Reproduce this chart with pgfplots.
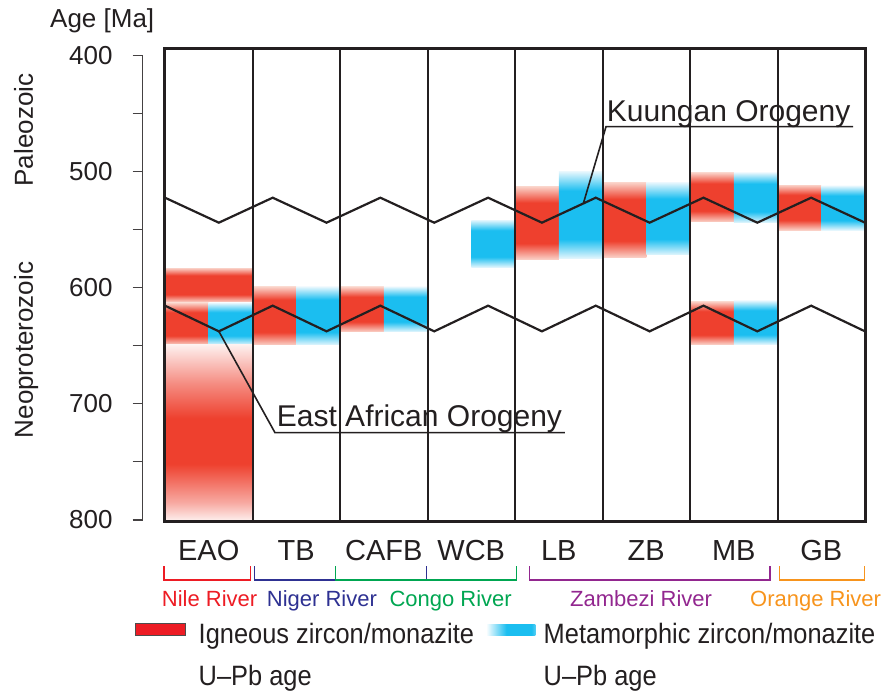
\documentclass[border=0pt]{standalone}
\usepackage{fontspec}
\setmainfont{Liberation Sans}
\usepackage{graphicx}
\usepackage{pgfplots}
\pgfplotsset{compat=1.18}

\definecolor{igred}{RGB}{238,64,46}
\definecolor{igpale}{RGB}{250,208,198}
\definecolor{mtblue}{RGB}{27,190,240}
\definecolor{mtpale}{RGB}{228,246,253}
\definecolor{legred}{RGB}{237,28,36}
\definecolor{ink}{RGB}{35,31,32}
\definecolor{nile}{RGB}{237,28,36}
\definecolor{niger}{RGB}{46,49,146}
\definecolor{congo}{RGB}{0,166,81}
\definecolor{zambezi}{RGB}{146,39,143}
\definecolor{orangeriver}{RGB}{247,148,29}

% age bands: solid core with soft upper and lower edges (the path spans 25bp..75bp)
\pgfdeclareverticalshading{igband}{100bp}{color(0bp)=(igpale); color(25bp)=(igpale); color(36bp)=(igred); color(64bp)=(igred); color(75bp)=(igpale); color(100bp)=(igpale)}
\pgfdeclareverticalshading{mtband}{100bp}{color(0bp)=(mtpale); color(25bp)=(mtpale); color(36bp)=(mtblue); color(64bp)=(mtblue); color(75bp)=(mtpale); color(100bp)=(mtpale)}
\pgfdeclareverticalshading{igtail}{100bp}{color(0bp)=(igred!10); color(25bp)=(igred!10); color(30bp)=(igred!45); color(41bp)=(igred); color(54bp)=(igred); color(64bp)=(igred!60); color(75bp)=(igred!8); color(100bp)=(igred!8)}
\pgfdeclarehorizontalshading{mtswatch}{100bp}{color(0bp)=(mtblue!5); color(25bp)=(mtblue!5); color(45bp)=(mtblue); color(71bp)=(mtblue); color(75bp)=(mtblue!75); color(100bp)=(mtblue!75)}

\newcommand{\legtext}[1]{\makebox[288.4pt][l]{\scalebox{0.907}[1]{\fontsize{28}{42}\selectfont\begin{tabular}[t]{@{}l@{}}#1\\U–Pb age\end{tabular}}}}

\pgfplotsset{
  igb/.style={draw=none, mark=none, forget plot, shade, shading=igband},
  mtb/.style={draw=none, mark=none, forget plot, shade, shading=mtband},
}

\begin{document}
\begin{tikzpicture}
\path[use as bounding box] (-165pt,-173pt) rectangle (724pt,521pt);

% age scale
\begin{axis}[
  at={(-22.3pt,1pt)}, anchor=south west,
  scale only axis, width=1pt, height=464.9pt,
  xmin=0, xmax=1, ymin=400, ymax=800, y dir=reverse,
  axis y line*=left, axis x line=none,
  xtick=\empty,
  ytick={400,500,600,700,800}, minor ytick={450,550,650,750},
  tick align=outside, major tick length=10pt, minor tick length=10pt,
  every tick/.style={ink!85, line width=1.2pt},
  y axis line style={ink!85, line width=1.2pt, -},
  yticklabel style={font=\fontsize{26}{26}\selectfont, text=ink, anchor=east, inner sep=0pt, xshift=-20pt},
  /pgf/number format/assume math mode=true,
]
\end{axis}

% sample columns
\begin{axis}[
  at={(0pt,0pt)}, anchor=south west,
  scale only axis, width=700pt, height=473pt,
  xmin=0, xmax=8, ymin=394, ymax=801, y dir=reverse,
  axis on top,
  axis line style={ink, line width=3pt},
  xtick={0.5,1.5,...,7.5}, xticklabels={EAO,TB,CAFB,WCB,LB,ZB,MB,GB},
  ytick=\empty,
  major tick length=0pt,
  xticklabel style={font=\fontsize{29}{29}\selectfont, text=ink, anchor=base, inner sep=0pt, yshift=-39.7pt},
  major grid style={ink, line width=2pt},
  extra x ticks={1,2,3,4,5,6,7}, extra x tick labels={},
  extra x tick style={grid=major},
  legend columns=2,
  legend cell align=left,
  legend style={at={(axis description cs:-0.042857,-0.19577)}, anchor=north west,
    draw=none, fill=none, inner sep=0pt, outer sep=0pt, row sep=0pt, column sep=0pt,
    cells={anchor=base west}, nodes={inner sep=0pt, text=ink}},
]
\addlegendimage{legend image code/.code={
  \path[draw=none, fill=none] (0pt,0pt) -- (63.3pt,0pt);
  \path[fill=legred, draw=ink!80, line width=0.9pt] (0pt,8pt) rectangle (50pt,19.7pt);}}
\addlegendentry{\legtext{Igneous zircon/monazite}}
\addlegendimage{legend image code/.code={
  \path[draw=none, fill=none] (0pt,0pt) -- (56.6pt,0pt);
  \path[draw=none, shade, shading=mtswatch] (0pt,8pt) rectangle (48.3pt,18.7pt);}}
\addlegendentry{\legtext{Metamorphic zircon/monazite}}

% EAO
\addplot[igb] coordinates {(0,583.3) (1,583.3) (1,612.5) (0,612.5) (0,583.3)};
\addplot[igb] coordinates {(0,613.4) (0.5,613.4) (0.5,649.5) (0,649.5) (0,613.4)};
\addplot[mtb] coordinates {(0.5,613.4) (1,613.4) (1,649.5) (0.5,649.5) (0.5,613.4)};
\addplot[draw=none, mark=none, forget plot, shade, shading=igtail] coordinates {(0,649.5) (1,649.5) (1,800) (0,800) (0,649.5)};
% TB
\addplot[igb] coordinates {(1,599.6) (1.5,599.6) (1.5,649.5) (1,649.5) (1,599.6)};
\addplot[mtb] coordinates {(1.5,599.6) (2,599.6) (2,649.5) (1.5,649.5) (1.5,599.6)};
% CAFB
\addplot[igb] coordinates {(2,599.6) (2.5,599.6) (2.5,638.1) (2,638.1) (2,599.6)};
\addplot[mtb] coordinates {(2.5,599.6) (3,599.6) (3,638.1) (2.5,638.1) (2.5,599.6)};
% WCB
\addplot[mtb] coordinates {(3.5,542.0) (4,542.0) (4,582.7) (3.5,582.7) (3.5,542.0)};
% LB
\addplot[igb] coordinates {(4,513.3) (4.5,513.3) (4.5,575.8) (4,575.8) (4,513.3)};
\addplot[mtb] coordinates {(4.5,500.4) (5,500.4) (5,575.0) (4.5,575.0) (4.5,500.4)};
% ZB
\addplot[igb] coordinates {(5,509.9) (5.5,509.9) (5.5,574.1) (5,574.1) (5,509.9)};
\addplot[mtb] coordinates {(5.5,509.9) (6,509.9) (6,572.1) (5.5,572.1) (5.5,509.9)};
% MB
\addplot[igb] coordinates {(6,501.3) (6.5,501.3) (6.5,543.5) (6,543.5) (6,501.3)};
\addplot[mtb] coordinates {(6.5,501.3) (7,501.3) (7,544.3) (6.5,544.3) (6.5,501.3)};
\addplot[igb] coordinates {(6,612.3) (6.5,612.3) (6.5,649.0) (6,649.0) (6,612.3)};
\addplot[mtb] coordinates {(6.5,611.4) (7,611.4) (7,649.0) (6.5,649.0) (6.5,611.4)};
% GB
\addplot[igb] coordinates {(7,511.9) (7.5,511.9) (7.5,550.6) (7,550.6) (7,511.9)};
\addplot[mtb] coordinates {(7.5,512.7) (8,512.7) (8,550.6) (7.5,550.6) (7.5,512.7)};

% orogenic belts
\addplot[ink, line width=2.2pt, mark=none, forget plot] coordinates {
  (0,522.8) (0.6154,544.3) (1.2308,522.8) (1.8462,544.3) (2.4615,522.8) (3.0769,544.3)
  (3.6923,522.8) (4.3077,544.3) (4.9231,522.8) (5.5385,544.3) (6.1538,522.8) (6.7692,544.3)
  (7.3846,522.8) (8,544.3)};
\addplot[ink, line width=2.2pt, mark=none, forget plot] coordinates {
  (0,615.7) (0.6154,637.8) (1.2308,615.7) (1.8462,637.8) (2.4615,615.7) (3.0769,637.8)
  (3.6923,615.7) (4.3077,637.8) (4.9231,615.7) (5.5385,637.8) (6.1538,615.7) (6.7692,637.8)
  (7.3846,615.7) (8,637.8)};
% leaders
\addplot[ink, line width=1.6pt, mark=none, forget plot] coordinates {(4.781,527.8) (5.04,461.7) (7.863,461.7)};
\addplot[ink, line width=1.6pt, mark=none, forget plot] coordinates {(0.6154,637.8) (1.257,725.0) (4.571,725.0)};
\end{axis}

% labels
\node[anchor=base west, inner sep=0pt, text=ink, font=\fontsize{26}{26}\selectfont] at (-115pt,493pt) {Age [Ma]};
\node[rotate=90, anchor=base, inner sep=0pt, text=ink, font=\fontsize{26}{26}\selectfont] at (-132pt,391pt) {Paleozoic};
\node[rotate=90, anchor=base, inner sep=0pt, text=ink, font=\fontsize{26}{26}\selectfont] at (-132pt,171pt) {Neoproterozoic};
\node[anchor=base west, inner sep=0pt, text=ink, font=\fontsize{30}{30}\selectfont] at (441.7pt,399.3pt) {Kuungan Orogeny};
\node[anchor=base west, inner sep=0pt, text=ink, font=\fontsize{30}{30}\selectfont] at (111.7pt,94.3pt) {East African Orogeny};

% river catchments
\draw[niger, line width=1.1pt] (89.3pt,-45pt) -- (89.3pt,-59pt) -- (261.7pt,-59pt) -- (261.7pt,-45pt);
\draw[congo, line width=1.1pt] (170.7pt,-45pt) -- (170.7pt,-59pt) -- (351.7pt,-59pt) -- (351.7pt,-45pt);
\draw[nile, line width=1.1pt] (-1pt,-45pt) -- (-1pt,-59pt) -- (85.7pt,-59pt) -- (85.7pt,-45pt);
\draw[zambezi, line width=1.1pt] (364.3pt,-45pt) -- (364.3pt,-59pt) -- (605pt,-59pt) -- (605pt,-45pt);
\draw[orangeriver, line width=1.1pt] (614.3pt,-45pt) -- (614.3pt,-59pt) -- (699.3pt,-59pt) -- (699.3pt,-45pt);
\begin{scope}[every node/.style={anchor=base west, inner sep=0pt, font=\fontsize{22}{22}\selectfont}]
\node[text=nile] at (-3.3pt,-85pt) {Nile River};
\node[text=niger] at (101.7pt,-85pt) {Niger River};
\node[text=congo] at (224.3pt,-85pt) {Congo River};
\node[text=zambezi] at (405pt,-85pt) {Zambezi River};
\node[text=orangeriver] at (585pt,-85pt) {Orange River};
\end{scope}
\end{tikzpicture}
\end{document}
